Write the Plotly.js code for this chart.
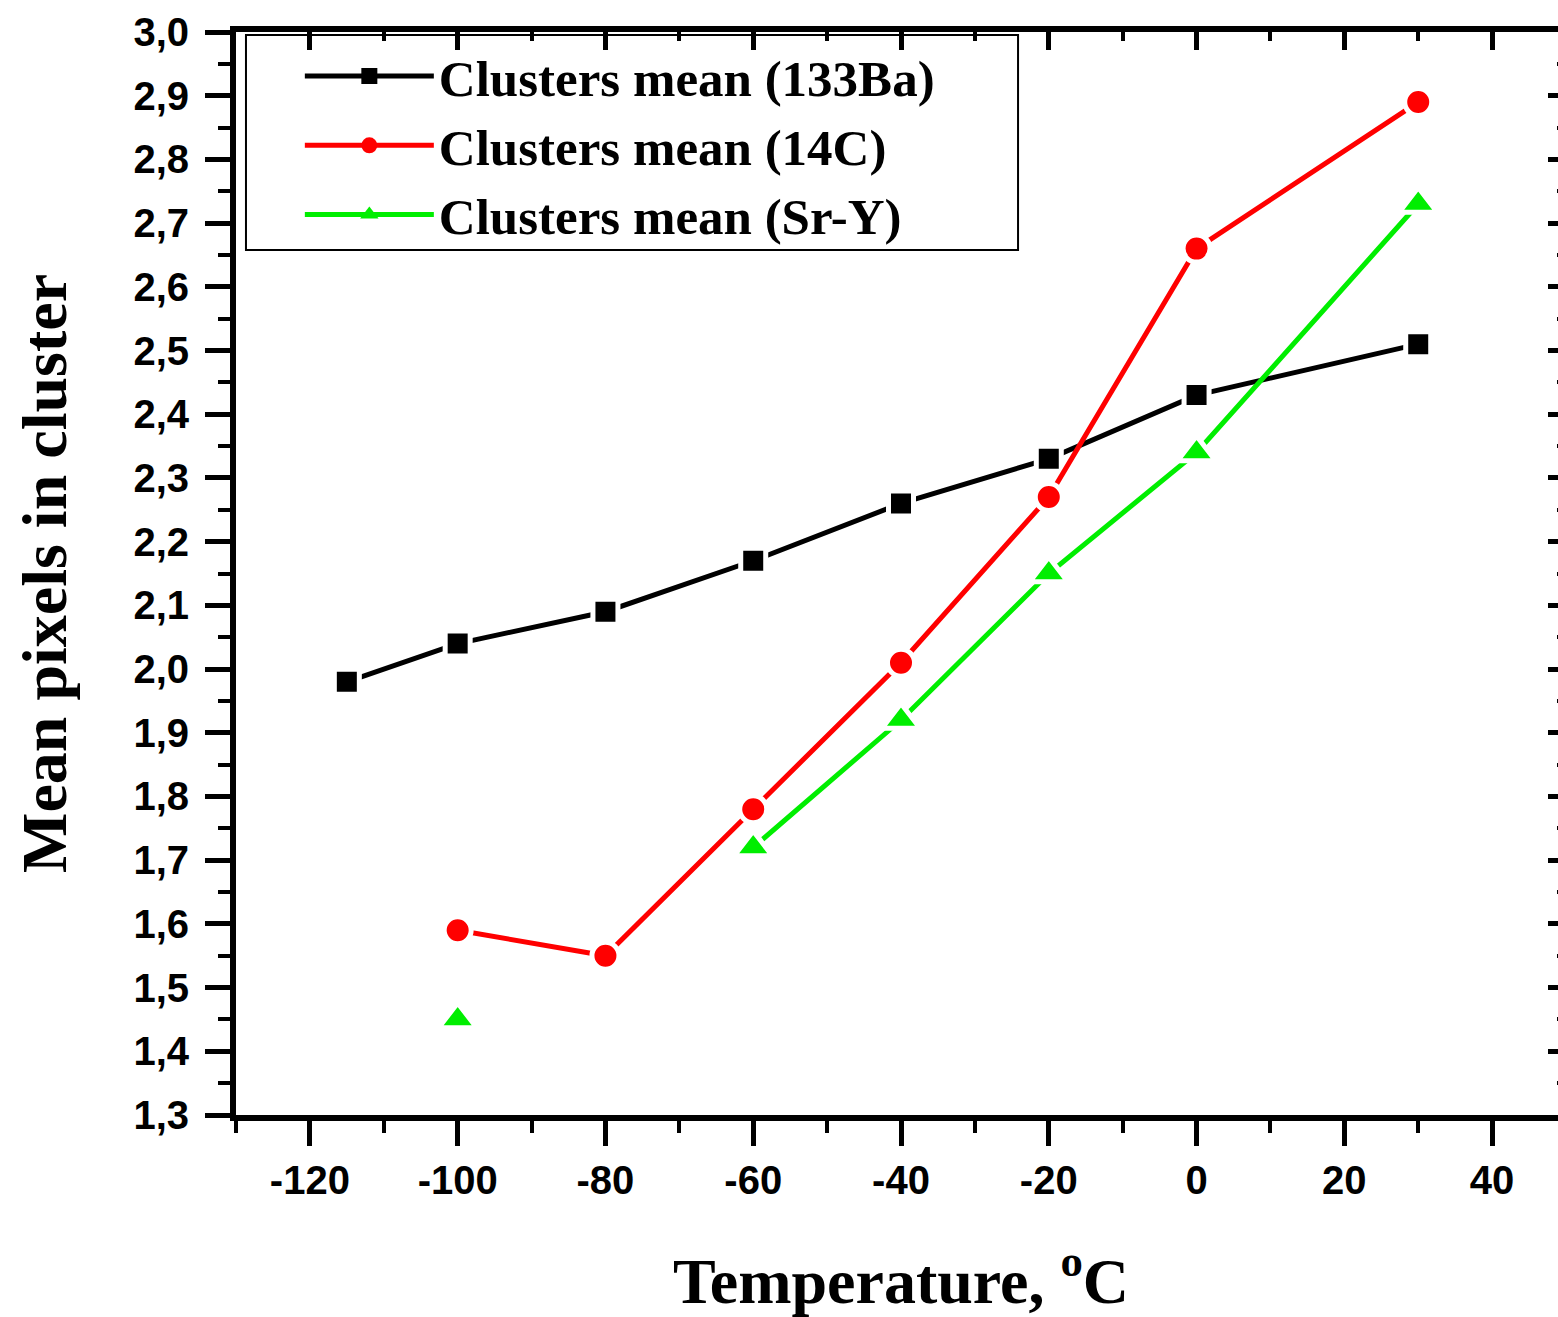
<!DOCTYPE html>
<html>
<head>
<meta charset="utf-8">
<script src="https://cdn.plot.ly/plotly-3.0.1.min.js"></script>
<style>
html, body { margin: 0; padding: 0; overflow: hidden; background: #fff; }
#chart { width: 1600px; height: 1317px; }
</style>
</head>
<body>
<div id="chart"></div>
<script>
const temperature = [-115, -100, -80, -60, -40, -20, 0, 30];
const baMean = [1.98, 2.04, 2.09, 2.17, 2.26, 2.33, 2.43, 2.51];

const temperatureC = [-100, -80, -60, -40, -20, 0, 30];
const c14Mean = [1.59, 1.55, 1.78, 2.01, 2.27, 2.66, 2.89];

const temperatureSrY = [-100, -80, -60, -40, -20, 0, 30];
const srYMean = [1.45, null, 1.72, 1.92, 2.15, 2.34, 2.73];

const seriesNames = ['Clusters mean (133Ba)', 'Clusters mean (14C)', 'Clusters mean (Sr-Y)'];
const seriesColors = ['#000000', '#ff0000', '#00ee00'];
const seriesSymbols = ['square', 'circle', 'triangle-up'];

const xTickVals = [-120, -100, -80, -60, -40, -20, 0, 20, 40];
const xTickText = ['-120', '-100', '-80', '-60', '-40', '-20', '0', '20', '40'];
const xTitle = 'Temperature, <sup>o</sup>C';
const yTitle = 'Mean pixels in cluster';

const tickFont = {family: 'Liberation Sans, Arial, sans-serif', size: 40, weight: 'bold', color: '#000'};
const titleFont = {family: 'Liberation Serif, Times New Roman, serif', size: 64, weight: 'bold', color: '#000'};

const xs = [temperature, temperatureC, temperatureSrY];
const ys = [baMean, c14Mean, srYMean];
const markerSizes = [25, 27, 33];

const traces = [];
for (let i = 0; i < 3; i++) {
  traces.push({
    x: xs[i], y: ys[i], name: seriesNames[i], type: 'scatter', mode: 'lines+markers',
    connectgaps: false, showlegend: false,
    line: {color: seriesColors[i], width: 5},
    marker: {symbol: seriesSymbols[i], size: markerSizes[i], color: seriesColors[i],
             line: {color: '#ffffff', width: 5}}
  });
}
// legend entries (no data of their own)
for (let i = 0; i < 3; i++) {
  traces.push({
    x: [null], y: [null], name: seriesNames[i], type: 'scatter', mode: 'lines+markers',
    showlegend: true, hoverinfo: 'skip',
    line: {color: seriesColors[i], width: 5},
    marker: {symbol: seriesSymbols[i], size: 20, color: seriesColors[i],
             line: {color: seriesColors[i], width: 0}}
  });
}
traces.push({x: [], y: [], xaxis: 'x2', yaxis: 'y2', showlegend: false, hoverinfo: 'skip', type: 'scatter', mode: 'markers'});

const layout = {
  width: 1600,
  height: 1317,
  margin: {l: 236, r: 34, t: 32, b: 202},
  paper_bgcolor: '#ffffff',
  plot_bgcolor: '#ffffff',
  separators: ',.',
  showlegend: true,
  xaxis: {
    range: [-130, 50], tickmode: 'array', tickvals: xTickVals, ticktext: xTickText,
    ticks: 'outside', ticklen: 25, tickwidth: 5, tickcolor: '#000',
    showline: true, linewidth: 6, linecolor: '#000',
    showgrid: false, zeroline: false,
    minor: {dtick: 10, tick0: 0, ticks: 'outside', ticklen: 12, tickwidth: 4, tickcolor: '#000', showgrid: false},
    tickfont: tickFont, ticklabelstandoff: 0,
    title: {text: xTitle, font: titleFont, standoff: 62}
  },
  yaxis: {
    range: [1.3, 3.0], tick0: 1.3, dtick: 0.1, tickformat: '.1f',
    ticks: 'outside', ticklen: 25, tickwidth: 5, tickcolor: '#000',
    showline: true, linewidth: 6, linecolor: '#000',
    showgrid: false, zeroline: false,
    minor: {dtick: 0.05, tick0: 1.3, ticks: 'outside', ticklen: 12, tickwidth: 4, tickcolor: '#000', showgrid: false},
    tickfont: tickFont, ticklabelstandoff: 8,
    title: {text: yTitle, font: titleFont, standoff: 48}
  },
  xaxis2: {
    overlaying: 'x', side: 'top', anchor: 'y2',
    range: [-130, 50], tick0: 0, dtick: 20,
    ticks: 'inside', ticklen: 18, tickwidth: 5, tickcolor: '#000',
    showline: true, linewidth: 6, linecolor: '#000',
    showgrid: false, zeroline: false, showticklabels: false,
    minor: {dtick: 10, tick0: 0, ticks: 'inside', ticklen: 9, tickwidth: 4, tickcolor: '#000', showgrid: false}
  },
  yaxis2: {
    overlaying: 'y', side: 'right', anchor: 'x2',
    range: [1.3, 3.0], tick0: 1.3, dtick: 0.1,
    ticks: 'inside', ticklen: 18, tickwidth: 5, tickcolor: '#000',
    showline: true, linewidth: 6, linecolor: '#000',
    showgrid: false, zeroline: false, showticklabels: false,
    minor: {dtick: 0.05, tick0: 1.3, ticks: 'inside', ticklen: 9, tickwidth: 4, tickcolor: '#000', showgrid: false}
  },
  legend: {
    x: 0.048, y: 0.996, xanchor: 'left', yanchor: 'top',
    bgcolor: 'rgba(0,0,0,0)', borderwidth: 0,
    font: {family: 'Liberation Serif, Times New Roman, serif', size: 51, weight: 'bold', color: '#000'},
    itemwidth: 129, tracegroupgap: 0
  },
  shapes: [{
    type: 'rect', xref: 'paper', yref: 'paper',
    x0: 0.0075, x1: 0.588, y0: 0.7987, y1: 0.9972,
    line: {color: '#000', width: 2}, fillcolor: '#ffffff', layer: 'below'
  }]
};

Plotly.newPlot('chart', traces, layout, {displayModeBar: false, staticPlot: true});
</script>
</body>
</html>
